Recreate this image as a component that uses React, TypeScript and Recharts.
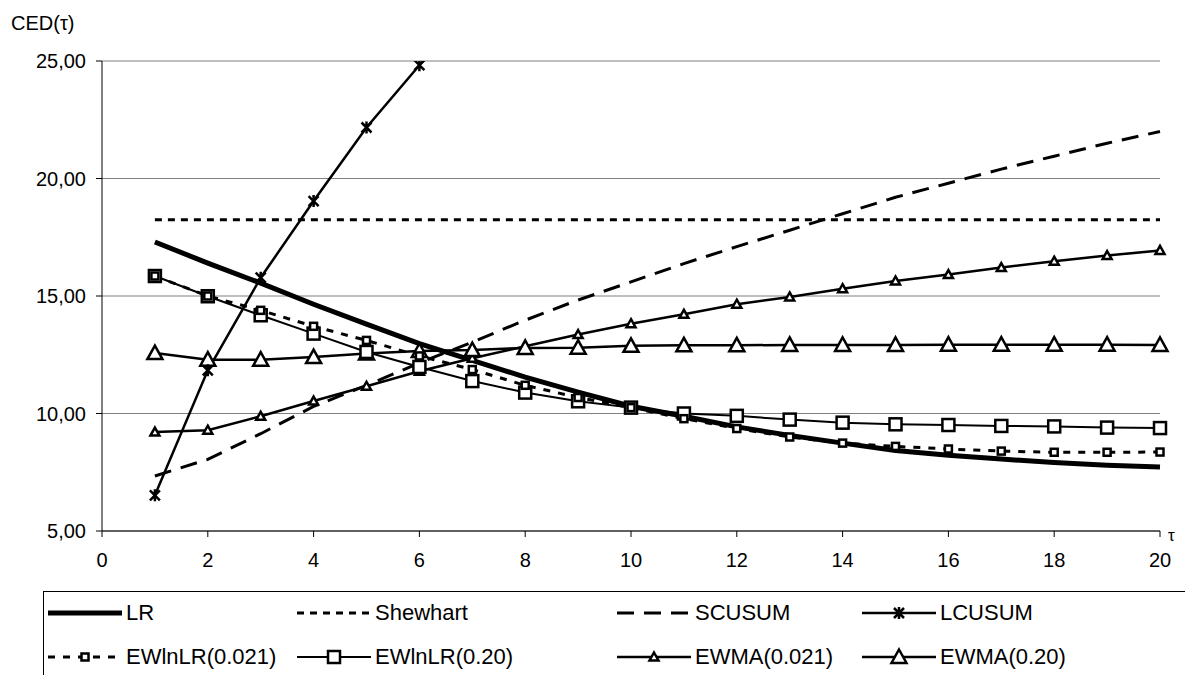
import React from "react";
import { LineChart, Line, XAxis, YAxis, CartesianGrid } from "recharts";

// tau values on the x axis
const tau = [1, 2, 3, 4, 5, 6, 7, 8, 9, 10, 11, 12, 13, 14, 15, 16, 17, 18, 19, 20];

// CED(tau)
const lr = [17.3, 16.4, 15.55, 14.65, 13.8, 12.97, 12.26, 11.55, 10.91, 10.31, 9.88, 9.43, 9.07, 8.74, 8.43, 8.22, 8.06, 7.91, 7.8, 7.72];
const shewhart = [18.25, 18.25, 18.25, 18.25, 18.25, 18.25, 18.25, 18.25, 18.25, 18.25, 18.25, 18.25, 18.25, 18.25, 18.25, 18.25, 18.25, 18.25, 18.25, 18.25];
const scusum = [7.34, 8.05, 9.14, 10.3, 11.2, 12.15, 13.04, 13.97, 14.83, 15.6, 16.38, 17.1, 17.8, 18.5, 19.2, 19.8, 20.4, 20.95, 21.5, 22.0];
const lcusum = [6.52, 11.84, 15.78, 19.04, 22.17, 24.82, 27.3, null, null, null, null, null, null, null, null, null, null, null, null, null];
const ewlnlr021 = [15.85, 15.0, 14.39, 13.71, 13.11, 12.45, 11.87, 11.2, 10.68, 10.25, 9.78, 9.36, 9.0, 8.74, 8.6, 8.49, 8.4, 8.35, 8.35, 8.36];
const ewlnlr020 = [15.85, 14.99, 14.18, 13.4, 12.62, 11.98, 11.38, 10.89, 10.52, 10.25, 10.0, 9.9, 9.74, 9.61, 9.54, 9.51, 9.47, 9.45, 9.4, 9.38];
const ewma021 = [9.21, 9.29, 9.88, 10.53, 11.16, 11.8, 12.35, 12.86, 13.36, 13.82, 14.22, 14.65, 14.96, 15.31, 15.64, 15.91, 16.21, 16.48, 16.72, 16.94];
const ewma020 = [12.57, 12.29, 12.29, 12.4, 12.55, 12.66, 12.7, 12.79, 12.8, 12.88, 12.9, 12.9, 12.92, 12.92, 12.92, 12.93, 12.93, 12.93, 12.93, 12.92];

const xTicks = [0, 2, 4, 6, 8, 10, 12, 14, 16, 18, 20];
const yTicks = [5, 10, 15, 20, 25];
const yTickLabels = ["5,00", "10,00", "15,00", "20,00", "25,00"];

const FONT = "'Liberation Sans', Arial, sans-serif";

const data = tau.map((t, i) => ({
  t,
  lr: lr[i],
  shewhart: shewhart[i],
  scusum: scusum[i],
  lcusum: lcusum[i],
  ewlnlr021: ewlnlr021[i],
  ewlnlr020: ewlnlr020[i],
  ewma021: ewma021[i],
  ewma020: ewma020[i],
}));

type MarkerKind = "none" | "star" | "sqSmall" | "sqBig" | "triSmall" | "triBig";

const Marker = ({ kind, cx, cy }: { kind: MarkerKind; cx: number; cy: number }) => {
  const sw = 2.5;
  switch (kind) {
    case "star":
      return (
        <path
          d={`M${cx - 5},${cy - 5}L${cx + 5},${cy + 5}M${cx - 5},${cy + 5}L${cx + 5},${cy - 5}M${cx},${cy - 6}L${cx},${cy + 6}`}
          stroke="#000"
          strokeWidth={sw}
          fill="none"
        />
      );
    case "sqSmall":
      return <rect x={cx - 3.5} y={cy - 3.5} width={7} height={7} fill="#fff" stroke="#000" strokeWidth={sw} />;
    case "sqBig":
      return <rect x={cx - 6} y={cy - 6} width={12} height={12} fill="#fff" stroke="#000" strokeWidth={sw} />;
    case "triSmall":
      return <path d={`M${cx},${cy - 4.5}L${cx + 4.5},${cy + 3.5}L${cx - 4.5},${cy + 3.5}Z`} fill="#fff" stroke="#000" strokeWidth={sw} />;
    case "triBig":
      return <path d={`M${cx},${cy - 7.5}L${cx + 7.5},${cy + 6}L${cx - 7.5},${cy + 6}Z`} fill="#fff" stroke="#000" strokeWidth={sw} />;
    default:
      return null;
  }
};

const series: { key: string; name: string; width: number; dash?: string; marker: MarkerKind }[] = [
  { key: "shewhart", name: "Shewhart", width: 3, dash: "7 6", marker: "none" },
  { key: "scusum", name: "SCUSUM", width: 3, dash: "17 10", marker: "none" },
  { key: "ewma021", name: "EWMA(0.021)", width: 2.5, marker: "triSmall" },
  { key: "ewma020", name: "EWMA(0.20)", width: 2.5, marker: "triBig" },
  { key: "ewlnlr020", name: "EWlnLR(0.20)", width: 2, marker: "sqBig" },
  { key: "ewlnlr021", name: "EWlnLR(0.021)", width: 3, dash: "7 8", marker: "sqSmall" },
  { key: "lcusum", name: "LCUSUM", width: 2.5, marker: "star" },
  { key: "lr", name: "LR", width: 5, marker: "none" },
];

// legend order as in the figure (2 rows x 4 columns)
const legendRows = [
  ["lr", "shewhart", "scusum", "lcusum"],
  ["ewlnlr021", "ewlnlr020", "ewma021", "ewma020"],
];
const legendTextX = [126, 375, 695, 940];
const legendRowY = [613, 657];

const LegendSample = ({ s }: { s: (typeof series)[number] }) => (
  <svg width={74} height={20} style={{ display: "block" }}>
    <line x1={0} x2={74} y1={10} y2={10} stroke="#000" strokeWidth={s.width} strokeDasharray={s.dash} />
    <Marker kind={s.marker} cx={37} cy={10} />
  </svg>
);

export default function App() {
  return (
    <div style={{ position: "absolute", left: 0, top: 0, width: 1185, height: 675, overflow: "hidden", background: "#fff", fontFamily: FONT }}>
      <LineChart width={1185} height={675} data={data} margin={{ top: 61, right: 25, left: 0, bottom: 114 }}>
        <CartesianGrid vertical={false} stroke="#808080" strokeWidth={1} />
        <XAxis
          dataKey="t"
          type="number"
          domain={[0, 20]}
          ticks={xTicks}
          height={30}
          tickSize={6}
          tickMargin={16}
          stroke="#000"
          tick={{ fill: "#000", fontSize: 20, fontFamily: FONT }}
        />
        <YAxis
          type="number"
          domain={[5, 25]}
          ticks={yTicks}
          allowDataOverflow
          width={102}
          tickSize={6}
          tickMargin={10}
          stroke="#000"
          tickFormatter={(v: number) => yTickLabels[yTicks.indexOf(v)]}
          tick={{ fill: "#000", fontSize: 20, fontFamily: FONT }}
        />
        {series.map((s) => (
          <Line
            key={s.key}
            type="linear"
            dataKey={s.key}
            name={s.name}
            stroke="#000"
            strokeWidth={s.width}
            strokeDasharray={s.dash}
            isAnimationActive={false}
            activeDot={false}
            dot={(p: any) => {
              if (s.marker === "none" || p.cy == null || p.value == null || p.value > 25) {
                return <g key={`${s.key}-${p.index}`} />;
              }
              return (
                <g key={`${s.key}-${p.index}`}>
                  <Marker kind={s.marker} cx={p.cx} cy={p.cy} />
                </g>
              );
            }}
          />
        ))}
      </LineChart>

      <div style={{ position: "absolute", left: 11, top: 12, fontSize: 20, color: "#000" }}>CED(τ)</div>
      <div style={{ position: "absolute", left: 1168, top: 526, fontSize: 17, color: "#000" }}>τ</div>

      {/* legend box runs past the right and bottom edge, as in the figure */}
      <div style={{ position: "absolute", left: 43, top: 591, width: 1200, height: 120, border: "1px solid #000", boxSizing: "border-box" }} />
      {legendRows.map((row, r) =>
        row.map((k, c) => {
          const s = series.find((d) => d.key === k)!;
          return (
            <div key={k} style={{ position: "absolute", left: legendTextX[c] - 78, top: legendRowY[r] - 13, height: 26, display: "flex", alignItems: "center" }}>
              <LegendSample s={s} />
              <span style={{ marginLeft: 4, fontSize: 22, color: "#000", lineHeight: "26px" }}>{s.name}</span>
            </div>
          );
        })
      )}
    </div>
  );
}
